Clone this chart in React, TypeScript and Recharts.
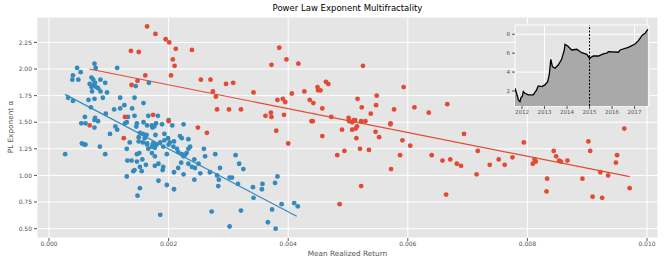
import {
  Area,
  AreaChart,
  CartesianGrid,
  ReferenceLine,
  Scatter,
  ScatterChart,
  XAxis,
  YAxis,
} from 'recharts'

// [mean realized return, power law exponent]
const lowReturnPoints: [number, number][] = [
  [0.00047, 2.01], [0.00053, 1.97], [0.0004, 1.94], [0.00039, 1.9], [0.00049, 1.9],
  [0.00076, 2.05], [0.00078, 2.01], [0.00114, 2.01], [0.00071, 1.92], [0.00074, 1.9],
  [0.00086, 1.9], [0.00094, 1.87], [0.00068, 1.86], [0.00071, 1.83], [0.00075, 1.85],
  [0.00079, 1.83], [0.00082, 1.82], [0.00077, 1.87], [0.00145, 1.84], [0.00167, 1.87],
  [0.00072, 1.79], [0.00086, 1.79], [0.00097, 1.78], [0.00076, 1.72], [0.00066, 1.71],
  [0.0009, 1.73], [0.00119, 1.73], [0.00143, 1.73], [0.00032, 1.73], [0.0004, 1.7],
  [0.00158, 1.68], [0.0007, 1.64], [0.00109, 1.62], [0.00119, 1.63], [0.00126, 1.66],
  [0.00139, 1.63], [0.00132, 1.55], [0.00143, 1.56], [0.00166, 1.56], [0.00182, 1.56],
  [0.00095, 1.58], [0.0006, 1.55], [0.00077, 1.54], [0.00076, 1.52], [0.00082, 1.51],
  [0.00054, 1.49], [0.00061, 1.49], [0.00076, 1.45], [0.00111, 1.46], [0.00114, 1.43],
  [0.00127, 1.49], [0.0013, 1.5], [0.00147, 1.49], [0.00146, 1.46], [0.00158, 1.5],
  [0.00164, 1.47], [0.00172, 1.47], [0.00176, 1.46], [0.00179, 1.49], [0.00173, 1.45],
  [0.00189, 1.48], [0.002, 1.52], [0.00206, 1.47], [0.00225, 1.48], [0.00102, 1.39],
  [0.00152, 1.4], [0.00157, 1.39], [0.00163, 1.38], [0.0015, 1.36], [0.0016, 1.35],
  [0.00178, 1.38], [0.00193, 1.39], [0.00199, 1.35], [0.00219, 1.37], [0.00222, 1.35],
  [0.00135, 1.31], [0.0015, 1.32], [0.00157, 1.31], [0.00164, 1.3], [0.00186, 1.31],
  [0.00193, 1.33], [0.00202, 1.31], [0.00209, 1.32], [0.00055, 1.3], [0.00059, 1.29],
  [0.00061, 1.29], [0.00027, 1.2], [0.00174, 1.3], [0.00085, 1.27], [0.00094, 1.2],
  [0.0013, 1.25], [0.00131, 1.14], [0.0013, 0.99], [0.00138, 1.14], [0.00147, 1.2],
  [0.00151, 1.21], [0.00147, 1.13], [0.00152, 1.08], [0.00143, 1.05], [0.00141, 1.04],
  [0.00156, 1.15], [0.00155, 1.04], [0.00162, 1.1], [0.00152, 0.88], [0.00148, 0.81],
  [0.00164, 1.29], [0.00166, 1.25], [0.00172, 1.27], [0.00177, 1.26], [0.00172, 1.21],
  [0.0018, 1.29], [0.00191, 1.27], [0.002, 1.29], [0.00208, 1.27], [0.00214, 1.25],
  [0.00233, 1.34], [0.00216, 1.22], [0.00222, 1.2], [0.00227, 1.19], [0.0023, 1.21],
  [0.00233, 1.25], [0.00236, 1.27], [0.00225, 1.18], [0.00221, 1.12], [0.00177, 1.09],
  [0.00183, 1.11], [0.00191, 1.08], [0.0019, 1.05], [0.00197, 1.2], [0.00183, 0.95],
  [0.00197, 0.91], [0.00209, 0.87], [0.00186, 0.63], [0.00209, 1.03], [0.00216, 1.07],
  [0.00225, 1.01], [0.00233, 1.11], [0.00243, 1.15], [0.00239, 1.08], [0.00244, 1.07],
  [0.0025, 1.11], [0.00253, 1.02], [0.00243, 0.96], [0.00259, 1.25], [0.00261, 1.18],
  [0.00278, 1.2], [0.00269, 1.03], [0.00286, 1.07], [0.00281, 1.0], [0.00284, 0.96],
  [0.00283, 0.9], [0.00302, 0.98], [0.00306, 0.98], [0.00312, 1.19], [0.00318, 1.11],
  [0.00325, 1.06], [0.00272, 0.66], [0.00321, 0.67], [0.00316, 0.92], [0.00341, 0.89],
  [0.00342, 0.79], [0.00357, 0.92], [0.00356, 0.87], [0.00378, 0.93], [0.00382, 0.99],
  [0.00373, 0.68], [0.00389, 0.73], [0.0041, 0.74], [0.00416, 0.71], [0.00302, 0.52],
  [0.00366, 0.56], [0.00379, 0.5], [0.00177, 1.18],
]

const highReturnPoints: [number, number][] = [
  [0.00164, 2.4], [0.00178, 2.33], [0.00195, 2.28], [0.00201, 2.25], [0.00137, 2.17],
  [0.0015, 2.16], [0.00212, 2.19], [0.00239, 2.18], [0.00207, 2.09], [0.0021, 2.03],
  [0.00204, 1.94], [0.00161, 1.94], [0.00148, 1.89], [0.00138, 1.85], [0.00254, 1.9],
  [0.0027, 1.9], [0.00274, 1.79], [0.00279, 1.74], [0.00281, 1.62], [0.00296, 1.86],
  [0.00308, 1.87], [0.00301, 1.62], [0.00321, 1.62], [0.00342, 1.78], [0.00372, 2.04],
  [0.00385, 2.2], [0.00397, 2.09], [0.00417, 2.05], [0.00406, 1.77], [0.00382, 1.71],
  [0.00391, 1.72], [0.00395, 1.69], [0.00371, 1.59], [0.00372, 1.55], [0.00362, 1.56],
  [0.00393, 1.57], [0.00427, 1.79], [0.00436, 1.71], [0.00442, 1.68], [0.00449, 1.83],
  [0.0045, 1.8], [0.00454, 1.8], [0.00457, 1.63], [0.00439, 1.51], [0.00441, 1.51],
  [0.00463, 1.88], [0.00467, 1.86], [0.00472, 1.55], [0.00127, 1.55], [0.00174, 1.57],
  [0.002, 1.51], [0.00249, 1.45], [0.00264, 1.4], [0.0038, 1.42], [0.00068, 1.47],
  [0.00125, 1.35], [0.004, 1.3], [0.00457, 1.37], [0.00525, 2.03], [0.00593, 1.83],
  [0.00516, 1.72], [0.00548, 1.75], [0.00547, 1.66], [0.00523, 1.64], [0.00577, 1.62],
  [0.00611, 1.64], [0.00635, 1.59], [0.00666, 1.67], [0.00538, 1.58], [0.00501, 1.54],
  [0.00502, 1.51], [0.0051, 1.52], [0.00512, 1.52], [0.00522, 1.51], [0.00529, 1.51],
  [0.00507, 1.5], [0.0049, 1.43], [0.00507, 1.43], [0.00515, 1.46], [0.00513, 1.44],
  [0.00571, 1.49], [0.00571, 1.48], [0.00546, 1.41], [0.00694, 1.39], [0.00962, 1.44],
  [0.00514, 1.35], [0.00552, 1.36], [0.00482, 1.19], [0.00494, 1.23], [0.0052, 1.25],
  [0.00535, 1.24], [0.00591, 1.33], [0.00604, 1.28], [0.00587, 1.19], [0.00572, 1.06],
  [0.00522, 0.9], [0.00486, 0.73], [0.0064, 1.19], [0.00658, 1.14], [0.00671, 1.15],
  [0.00682, 1.11], [0.00689, 1.09], [0.00664, 0.82], [0.00715, 1.01], [0.00717, 1.23],
  [0.00737, 1.1], [0.00752, 1.15], [0.00762, 1.1], [0.00775, 1.17], [0.00794, 1.31],
  [0.00809, 1.11], [0.00812, 1.15], [0.00814, 1.13], [0.00833, 0.97], [0.00832, 0.85],
  [0.00844, 1.23], [0.00848, 1.18], [0.00853, 1.14], [0.00856, 1.13], [0.00867, 1.14],
  [0.00892, 0.97], [0.00902, 1.32], [0.00905, 1.23], [0.00909, 0.8], [0.00922, 1.03],
  [0.00925, 0.79], [0.00935, 1.0], [0.0095, 1.19], [0.00948, 1.12], [0.00971, 0.88],
]

// fitted lines, end points
const lowFitX = [0.000268, 0.004142]
const lowFitY = [1.762, 0.616]
const highFitX = [0.000674, 0.00971]
const highFitY = [2.0, 0.988]

const xTicks = [0, 0.002, 0.004, 0.006, 0.008, 0.01]
const yTicks = [0.5, 0.75, 1.0, 1.25, 1.5, 1.75, 2.0, 2.25]

// inset: log price over time
const priceYears = [
  2011.69, 2011.76, 2011.84, 2011.91, 2011.96, 2012.01, 2012.06, 2012.13, 2012.28, 2012.5,
  2012.65, 2012.72, 2012.88, 2013.02, 2013.14, 2013.21, 2013.28, 2013.35, 2013.47, 2013.61,
  2013.76, 2013.88, 2013.91, 2014.03, 2014.21, 2014.43, 2014.65, 2014.88, 2015.0, 2015.17,
  2015.39, 2015.61, 2015.76, 2015.84, 2016.28, 2016.36, 2016.72, 2017.02, 2017.17, 2017.35,
  2017.47, 2017.59,
]
const logPrice = [
  2.29, 1.76, 1.05, 0.87, 1.33, 1.4, 1.93, 1.76, 1.58, 1.58,
  2.11, 2.53, 2.46, 2.64, 2.98, 3.69, 5.35, 4.57, 4.4, 4.75,
  5.35, 6.34, 6.94, 6.76, 6.34, 6.41, 6.05, 5.88, 5.46, 5.7,
  5.7, 5.92, 5.99, 6.16, 6.1, 6.34, 6.62, 6.97, 7.32, 7.93,
  8.11, 8.53,
]
const yearTicks = [2012, 2013, 2014, 2015, 2016, 2017]
const splitYear = 2015

const BLUE = '#348ABD'
const RED = '#E24A33'
const TICK = { fontSize: 6, fill: '#555' }

const dot = (color: string) => (p: any) => <circle cx={p.cx} cy={p.cy} r={2.4} fill={color} />

export default function App() {
  const low = lowReturnPoints.map(([x, y]) => ({ x, y }))
  const high = highReturnPoints.map(([x, y]) => ({ x, y }))
  const price = priceYears.map((year, i) => ({ year, v: logPrice[i] }))

  return (
    <div
      style={{
        position: 'absolute',
        left: 0,
        top: 0,
        width: 664,
        height: 266,
        background: '#fff',
        fontFamily: 'DejaVu Sans',
      }}
    >
      <ScatterChart width={664} height={266} margin={{ top: 17, right: 6, bottom: 0, left: 0 }}>
        <CartesianGrid stroke="#fff" fill="#e5e5e5" />
        <XAxis
          type="number"
          dataKey="x"
          domain={[-0.000201, 0.010184]}
          ticks={xTicks}
          tickFormatter={(v: number) => v.toFixed(3)}
          allowDataOverflow
          height={28}
          axisLine={false}
          tickLine={{ stroke: '#555' }}
          tickSize={3}
          tickMargin={1}
          tick={TICK}
        />
        <YAxis
          type="number"
          dataKey="y"
          domain={[0.412, 2.489]}
          ticks={yTicks}
          tickFormatter={(v: number) => v.toFixed(2)}
          allowDataOverflow
          width={37}
          axisLine={false}
          tickLine={{ stroke: '#555' }}
          tickSize={3}
          tick={TICK}
        />
        <Scatter data={low} shape={dot(BLUE)} isAnimationActive={false} />
        <ReferenceLine
          segment={[
            { x: lowFitX[0], y: lowFitY[0] },
            { x: lowFitX[1], y: lowFitY[1] },
          ]}
          stroke={BLUE}
          strokeWidth={1.2}
        />
        <Scatter data={high} shape={dot(RED)} isAnimationActive={false} />
        <ReferenceLine
          segment={[
            { x: highFitX[0], y: highFitY[0] },
            { x: highFitX[1], y: highFitY[1] },
          ]}
          stroke={RED}
          strokeWidth={1.2}
        />
      </ScatterChart>

      <div style={{ position: 'absolute', left: 495, top: 20 }}>
        <AreaChart width={160} height={100} data={price} margin={{ top: 5, right: 6, bottom: 0, left: 0 }}>
          <CartesianGrid stroke="#fff" fill="#e5e5e5" />
          <XAxis
            type="number"
            dataKey="year"
            domain={[2011.69, 2017.64]}
            ticks={yearTicks}
            allowDataOverflow
            height={14}
            axisLine={false}
            tickLine={{ stroke: '#555' }}
            tickSize={3}
            tickMargin={1}
            tick={{ fontSize: 5.5, fill: '#555' }}
          />
          <YAxis
            type="number"
            domain={[0.41, 8.98]}
            ticks={[2, 4, 6, 8]}
            allowDataOverflow
            width={20}
            axisLine={false}
            tickLine={{ stroke: '#555' }}
            tickSize={3}
            tick={{ fontSize: 5.5, fill: '#555' }}
          />
          <Area
            type="linear"
            dataKey="v"
            stroke="#000"
            strokeWidth={1.3}
            fill="#a9a9a9"
            fillOpacity={1}
            isAnimationActive={false}
          />
          <ReferenceLine x={splitYear} stroke="#000" strokeDasharray="2 1.5" strokeWidth={1} />
        </AreaChart>
      </div>

      <div
        style={{
          position: 'absolute',
          left: 37,
          width: 621,
          top: 3,
          textAlign: 'center',
          fontSize: 8.5,
          color: '#000',
        }}
      >
        Power Law Exponent Multifractality
      </div>
      <div
        style={{
          position: 'absolute',
          left: 37,
          width: 621,
          top: 249,
          textAlign: 'center',
          fontSize: 7.3,
          color: '#555',
        }}
      >
        Mean Realized Return
      </div>
      <div
        style={{
          position: 'absolute',
          left: 10,
          top: 127,
          transform: 'translate(-50%, -50%) rotate(-90deg)',
          whiteSpace: 'nowrap',
          fontSize: 7.3,
          color: '#555',
        }}
      >
        PL Exponent α
      </div>
    </div>
  )
}
